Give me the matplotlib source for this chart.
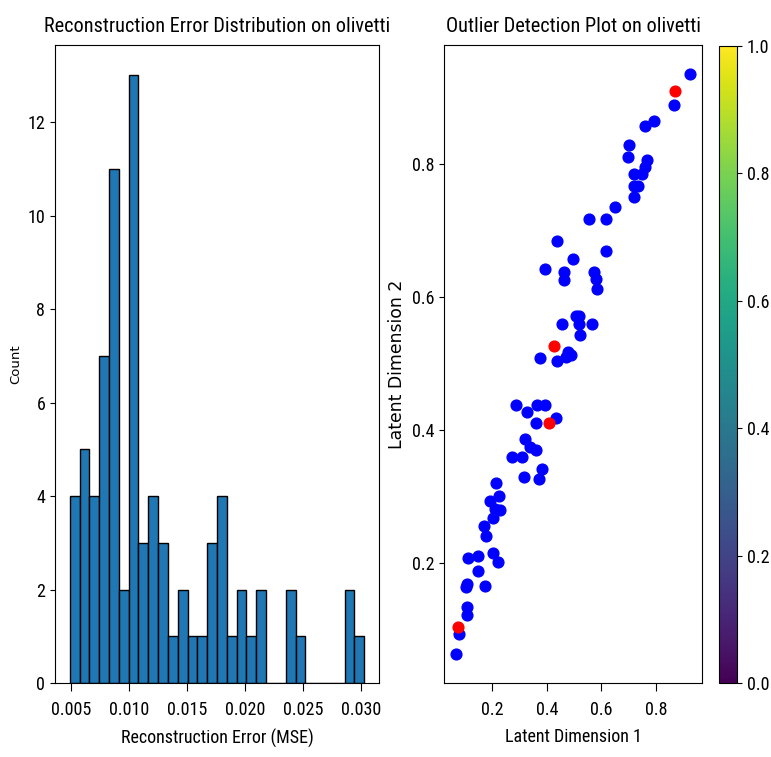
import os
import numpy as np
import matplotlib
matplotlib.use("Agg")
import matplotlib.pyplot as plt
from matplotlib import font_manager as fm
from matplotlib.cm import ScalarMappable
from matplotlib.colors import Normalize

# ---------------- data ----------------
title_hist = "Reconstruction Error Distribution on olivetti"
title_scatter = "Outlier Detection Plot on olivetti"
xlabel_hist = "Reconstruction Error (MSE)"
ylabel_hist = "Count"
xlabel_scatter = "Latent Dimension 1"
ylabel_scatter = "Latent Dimension 2"

hist_min = 0.00488
hist_max = 0.03031
hist_counts = [4, 5, 4, 7, 11, 2, 13, 3, 4, 3, 1, 2, 1, 1, 3, 4, 1, 2, 1, 2,
               0, 0, 2, 1, 0, 0, 0, 0, 2, 1]
hist_xticks = [0.005, 0.010, 0.015, 0.020, 0.025, 0.030]

latent_x = [0.925, 0.864, 0.792, 0.758, 0.701, 0.697, 0.767, 0.759, 0.719, 0.749,
            0.719, 0.735, 0.718, 0.649, 0.615, 0.554, 0.617, 0.438, 0.496, 0.393,
            0.463, 0.463, 0.571, 0.580, 0.583, 0.507, 0.519, 0.519, 0.457, 0.567,
            0.520, 0.377, 0.436, 0.471, 0.487, 0.479,
            0.286, 0.326, 0.366, 0.394, 0.359, 0.434, 0.321, 0.337, 0.361, 0.274,
            0.311, 0.317, 0.371, 0.383, 0.213, 0.224, 0.193, 0.228, 0.210, 0.205,
            0.170, 0.176, 0.204, 0.223, 0.113, 0.147, 0.150, 0.107, 0.104, 0.173,
            0.107, 0.110, 0.080, 0.067]
latent_y = [0.936, 0.890, 0.866, 0.858, 0.829, 0.811, 0.806, 0.796, 0.786, 0.786,
            0.768, 0.768, 0.751, 0.736, 0.718, 0.717, 0.669, 0.684, 0.657, 0.642,
            0.638, 0.626, 0.638, 0.628, 0.612, 0.572, 0.572, 0.560, 0.559, 0.559,
            0.543, 0.508, 0.504, 0.510, 0.513, 0.518,
            0.438, 0.428, 0.438, 0.438, 0.410, 0.418, 0.387, 0.375, 0.370, 0.360,
            0.359, 0.329, 0.327, 0.341, 0.320, 0.301, 0.294, 0.280, 0.282, 0.267,
            0.255, 0.240, 0.215, 0.202, 0.208, 0.211, 0.188, 0.169, 0.164, 0.165,
            0.133, 0.121, 0.093, 0.063]
outlier_x = [0.868, 0.425, 0.410, 0.076]
outlier_y = [0.910, 0.526, 0.410, 0.104]
scatter_ticks = [0.2, 0.4, 0.6, 0.8]
cbar_ticks = [0.0, 0.2, 0.4, 0.6, 0.8, 1.0]

# ---------------- fonts ----------------
wanted = ["NotoSans-ExtraCondensed.ttf", "NotoSans-Condensed.ttf",
          "RobotoCondensed-Regular.ttf", "LiberationSansNarrow-Regular.ttf",
          "DejaVuSansCondensed.ttf"]
by_base = {os.path.basename(e.fname): e.fname for e in fm.fontManager.ttflist}
cond_path = next((by_base[w] for w in wanted if w in by_base), None)
if cond_path is None:
    for e in fm.fontManager.ttflist:
        b = os.path.basename(e.fname)
        if ("Condensed" in b or "Narrow" in b) and not any(
                k in b for k in ("Bold", "Italic", "Light", "Medium", "Black", "Thin", "Semi", "Oblique")):
            cond_path = e.fname
            break
if cond_path is not None:
    fm.fontManager.ttflist.append(fm.FontEntry(fname=cond_path, name="CondFont", style="normal",
                                               variant="normal", weight=400, stretch="normal",
                                               size="scalable"))
    fm.fontManager._findfont_cached.cache_clear()
    plt.rcParams["font.family"] = ["CondFont", "DejaVu Sans"]
else:
    plt.rcParams["font.family"] = ["DejaVu Sans"]

fig = plt.figure(figsize=(7.71, 7.57), dpi=100)
renderer = fig.canvas.get_renderer()


def text_len(s, size, **kw):
    t = fig.text(0, 0, s, fontsize=size, **kw)
    bb = t.get_window_extent(renderer)
    t.remove()
    return max(bb.width, bb.height)


base = 12 * 327 / text_len(title_hist, 12)
title_size = base * 1.05
label_size = base * 10 / 12 * 1.12
ylab2_size = 10 * 168 / text_len(ylabel_scatter, 10, family="DejaVu Sans")
ylab1_size = 9.5

W, H = 771, 757
def rect(x0, x1, y0, y1):
    return [x0 / W, 1 - y1 / H, (x1 - x0) / W, (y1 - y0) / H]

ax1 = fig.add_axes(rect(55, 379, 45, 683))
ax2 = fig.add_axes(rect(444, 702, 45, 683))
cax = fig.add_axes(rect(719, 737, 46, 683))

# ---------------- histogram ----------------
edges = np.linspace(hist_min, hist_max, len(hist_counts) + 1)
ax1.hist(edges[:-1], bins=edges, weights=hist_counts, color="#1f77b4", edgecolor="black")
ax1.set_xticks(hist_xticks)
ax1.set_xticklabels([f"{v:.3f}" for v in hist_xticks])
ax1.set_title(title_hist, fontsize=title_size, pad=9.5)
ax1.set_xlabel(xlabel_hist, fontsize=label_size, labelpad=7)
ax1.set_ylabel(ylabel_hist, fontsize=ylab1_size, family="DejaVu Sans")

# ---------------- scatter ----------------
ax2.scatter(latent_x, latent_y, c="blue", s=60)
ax2.scatter(outlier_x, outlier_y, c="red", s=60)
ax2.set_xticks(scatter_ticks)
ax2.set_yticks(scatter_ticks)
ax2.set_title(title_scatter, fontsize=title_size, pad=9.5)
ax2.set_xlabel(xlabel_scatter, fontsize=label_size, labelpad=7)
ax2.set_ylabel(ylabel_scatter, fontsize=ylab2_size, family="DejaVu Sans")

for ax in (ax1, ax2):
    ax.tick_params(labelsize=label_size)
    ax.tick_params(axis="x", length=5.8, pad=7)

cb = fig.colorbar(ScalarMappable(norm=Normalize(0, 1), cmap="viridis"), cax=cax)
cb.set_ticks(cbar_ticks)
cb.ax.tick_params(labelsize=label_size)

fig.savefig("out.png", dpi=100)
